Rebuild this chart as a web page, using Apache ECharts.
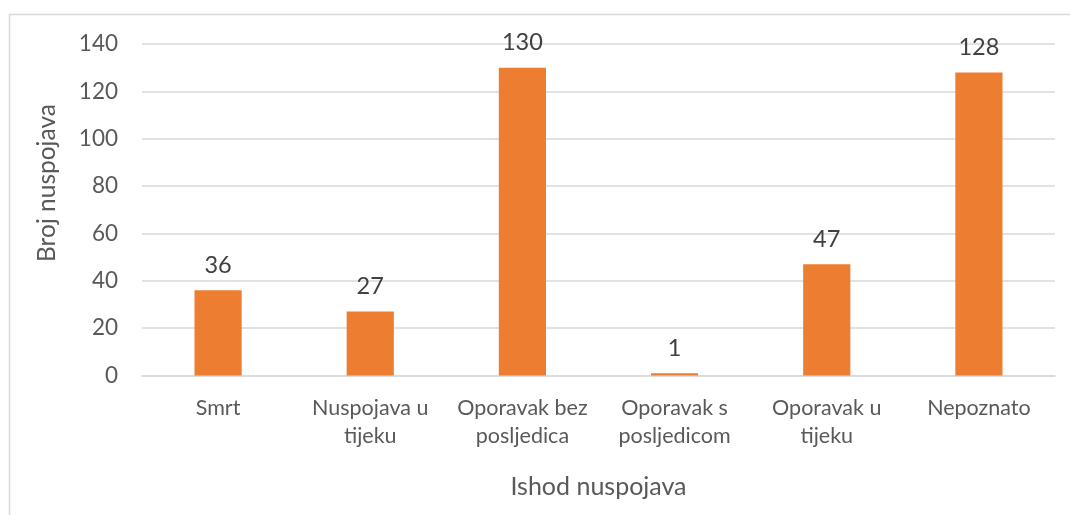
<!DOCTYPE html>
<html><head><meta charset="utf-8">
<script src="https://cdn.jsdelivr.net/npm/echarts@6/dist/echarts.min.js"></script>
<style>html,body{margin:0;padding:0;background:#fff}#c{width:1070px;height:515px}</style>
</head><body><div id="c"></div>
<script>
const categories = ['Smrt', 'Nuspojava u\ntijeku', 'Oporavak bez\nposljedica', 'Oporavak s\nposljedicom', 'Oporavak u\ntijeku', 'Nepoznato'];
const values = [36, 27, 130, 1, 47, 128];
const yTicks = {min: 0, max: 140, interval: 20};
const xTitle = 'Ishod nuspojava';
const yTitle = 'Broj nuspojava';

const font = 'Lato, "Open Sans", sans-serif';
const chart = echarts.init(document.getElementById('c'));
chart.setOption({
  animation: false,
  backgroundColor: '#fff',
  graphic: [
    {type: 'rect', shape: {x: 9.5, y: 14.5, width: 1080, height: 520}, style: {fill: 'none', stroke: '#d9d9d9', lineWidth: 1.5}, silent: true},
    {type: 'text', x: 47, y: 183, rotation: Math.PI / 2, style: {text: yTitle, fontFamily: font, fontSize: 24.5, fill: '#595959', align: 'center', verticalAlign: 'middle'}, silent: true}
  ],
  grid: {left: 142, right: 15, top: 44, bottom: 139.5},
  xAxis: {
    type: 'category', data: categories,
    name: xTitle, nameLocation: 'middle', nameGap: 99,
    nameTextStyle: {fontFamily: font, fontSize: 25, color: '#595959'},
    axisLine: {lineStyle: {color: '#d9d9d9', width: 1.5}},
    axisTick: {show: false},
    axisLabel: {fontFamily: font, fontSize: 21.5, color: '#595959', margin: 19, lineHeight: 28, interval: 0}
  },
  yAxis: {
    type: 'value', min: yTicks.min, max: yTicks.max, interval: yTicks.interval,
    axisLine: {show: false}, axisTick: {show: false},
    axisLabel: {fontFamily: font, fontSize: 22.5, color: '#595959', margin: 24},
    splitLine: {lineStyle: {color: '#d9d9d9', width: 1.5}}
  },
  series: [{
    type: 'bar', data: values, barWidth: '31%',
    itemStyle: {color: '#ED7D31'},
    label: {show: true, position: 'top', distance: 13, fontFamily: font, fontSize: 23.5, color: '#404040'}
  }]
});
</script></body></html>
